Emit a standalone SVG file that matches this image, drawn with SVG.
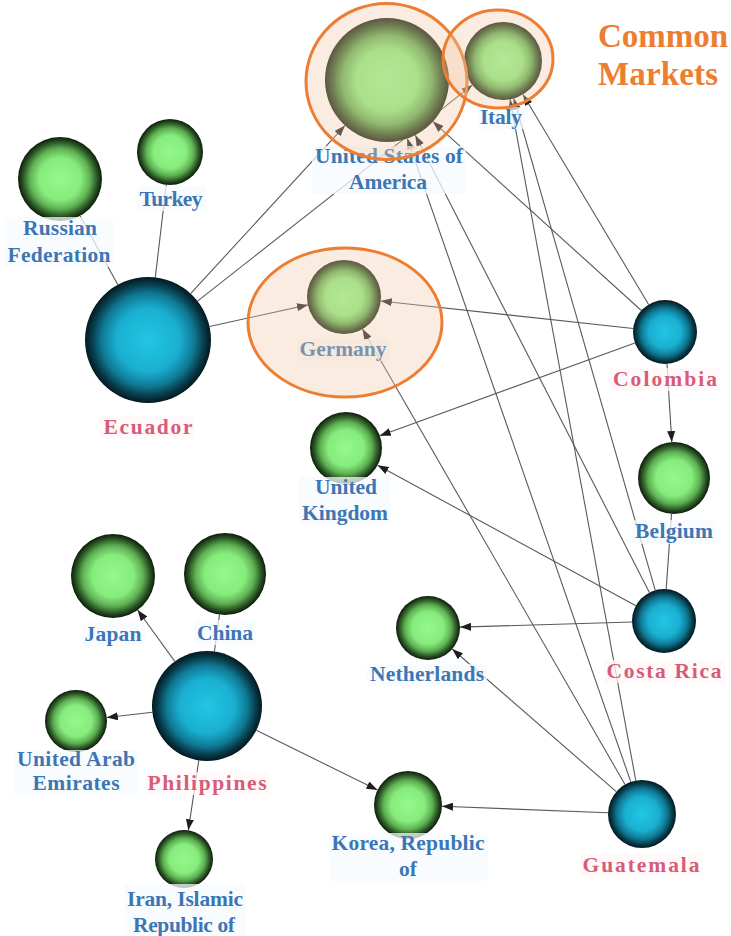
<svg xmlns="http://www.w3.org/2000/svg" width="731" height="936" viewBox="0 0 731 936">
  <style>
    .edge { stroke: #5a5a5a; stroke-width: 1.1; fill: none; marker-end: url(#arrow); }
    .edge.plain { marker-end: none; }
    .lbl { font-family: "Liberation Serif", "Times New Roman", serif; font-weight: bold; font-size: 21.5px; text-anchor: middle; }
    .dest { fill: #3d76b4; }
    .src { fill: #d65c79; }
    .bg-dest { fill: #f7fbfe; opacity: 0.75; }
    .bg-src { fill: #fff7f8; opacity: 0.75; }
    .market { fill: #f0c8a6; fill-opacity: 0.35; stroke: #ed7d31; stroke-width: 3; }
    .title { font-family: "Liberation Serif", "Times New Roman", serif; font-weight: bold; font-size: 33px; fill: #ed7d31; }
  </style>
  <defs>
    <radialGradient id="gDest" cx="0.5" cy="0.5" r="0.5">
      <stop offset="0" stop-color="#95f88d"/>
      <stop offset="0.5" stop-color="#86ec7c"/>
      <stop offset="0.72" stop-color="#5fb054"/>
      <stop offset="0.88" stop-color="#2b5825"/>
      <stop offset="1" stop-color="#0d1a0b"/>
    </radialGradient>
    <radialGradient id="gSrc" cx="0.5" cy="0.5" r="0.5">
      <stop offset="0" stop-color="#22c6e4"/>
      <stop offset="0.5" stop-color="#1aafd1"/>
      <stop offset="0.74" stop-color="#0f7893"/>
      <stop offset="0.89" stop-color="#083c4b"/>
      <stop offset="1" stop-color="#03191f"/>
    </radialGradient>
    <marker id="arrow" markerUnits="userSpaceOnUse" markerWidth="11" markerHeight="8" refX="11" refY="4" orient="auto">
      <path d="M0,0 L11,4 L0,8 z" fill="#1e1e1e"/>
    </marker>
  </defs>

  <rect width="731" height="936" fill="#ffffff"/>

  <!-- export links -->
  <g id="edges">
    <line class="edge plain" x1="117.8" y1="284.7" x2="80.1" y2="215.9"/>
    <line class="edge plain" x1="155.3" y1="277.4" x2="166.2" y2="184.8"/>
    <line class="edge" x1="190.6" y1="293.6" x2="345" y2="125.6"/>
    <line class="edge" x1="197.5" y1="301.1" x2="472.3" y2="85.1"/>
    <line class="edge" x1="209.5" y1="326.5" x2="307.9" y2="304.9"/>
    <line class="edge" x1="633.2" y1="328.5" x2="380.8" y2="301"/>
    <line class="edge" x1="634.9" y1="342.9" x2="379.8" y2="435.7"/>
    <line class="edge" x1="641.3" y1="310.5" x2="432.9" y2="121.6"/>
    <line class="edge" x1="648.6" y1="304.5" x2="523" y2="94.5"/>
    <line class="edge" x1="667" y1="364" x2="671.8" y2="442.1"/>
    <line class="edge" x1="632" y1="622" x2="460" y2="627.1"/>
    <line class="edge" x1="635.9" y1="605.7" x2="377.6" y2="465.2"/>
    <line class="edge" x1="649.4" y1="592.5" x2="415.3" y2="135.2"/>
    <line class="edge" x1="655.2" y1="590.2" x2="513.8" y2="98.5"/>
    <line class="edge plain" x1="666.2" y1="589.1" x2="671.5" y2="513.9"/>
    <line class="edge" x1="608" y1="812.7" x2="442" y2="806.3"/>
    <line class="edge" x1="616.3" y1="791.7" x2="452.2" y2="649"/>
    <line class="edge" x1="625" y1="784.5" x2="362.5" y2="329.1"/>
    <line class="edge" x1="630.8" y1="781.9" x2="407.3" y2="138.6"/>
    <line class="edge" x1="635.8" y1="780.6" x2="510.1" y2="99.4"/>
    <line class="edge" x1="174.8" y1="661.4" x2="137.6" y2="610"/>
    <line class="edge plain" x1="214.4" y1="651.5" x2="219.5" y2="614.6"/>
    <line class="edge" x1="152.4" y1="712.3" x2="106.8" y2="717.5"/>
    <line class="edge" x1="198.8" y1="760.4" x2="188.3" y2="830.3"/>
    <line class="edge" x1="256.3" y1="730.3" x2="377.5" y2="790"/>
  </g>

  <!-- destination markets -->
  <g id="node-usa">
    <circle cx="387" cy="80" r="62" fill="url(#gDest)"/>
    <rect class="bg-dest" x="312" y="146" width="154" height="48" rx="3"/>
    <text class="lbl dest" x="389" y="163" textLength="148" lengthAdjust="spacing">United States of</text>
    <text class="lbl dest" x="388" y="189" textLength="78" lengthAdjust="spacing">America</text>
  </g>
  <g id="node-italy">
    <circle cx="503" cy="61" r="39" fill="url(#gDest)"/>
    <rect class="bg-dest" x="477" y="107" width="48" height="22" rx="3"/>
    <text class="lbl dest" x="501" y="124" textLength="42" lengthAdjust="spacing">Italy</text>
  </g>
  <g id="node-germany">
    <circle cx="344" cy="297" r="37" fill="url(#gDest)"/>
    <rect class="bg-dest" x="297" y="339" width="93" height="22" rx="3"/>
    <text class="lbl dest" x="343" y="356" textLength="87" lengthAdjust="spacing">Germany</text>
  </g>
  <g id="node-uk">
    <circle cx="346" cy="448" r="36" fill="url(#gDest)"/>
    <rect class="bg-dest" x="299" y="477" width="92" height="48" rx="3"/>
    <text class="lbl dest" x="346" y="494" textLength="62" lengthAdjust="spacing">United</text>
    <text class="lbl dest" x="345" y="520" textLength="86" lengthAdjust="spacing">Kingdom</text>
  </g>
  <g id="node-turkey">
    <circle cx="170" cy="152" r="33" fill="url(#gDest)"/>
    <rect class="bg-dest" x="137" y="186" width="69" height="25" rx="3"/>
    <text class="lbl dest" x="171" y="206" textLength="63" lengthAdjust="spacing">Turkey</text>
  </g>
  <g id="node-russia">
    <circle cx="60" cy="179" r="42" fill="url(#gDest)"/>
    <rect class="bg-dest" x="4" y="217" width="109" height="50" rx="3"/>
    <text class="lbl dest" x="60" y="235" textLength="74" lengthAdjust="spacing">Russian</text>
    <text class="lbl dest" x="59" y="262" textLength="103" lengthAdjust="spacing">Federation</text>
  </g>
  <g id="node-belgium">
    <circle cx="674" cy="478" r="36" fill="url(#gDest)"/>
    <rect class="bg-dest" x="632" y="520" width="84" height="24" rx="3"/>
    <text class="lbl dest" x="674" y="538" textLength="78" lengthAdjust="spacing">Belgium</text>
  </g>
  <g id="node-netherlands">
    <circle cx="428" cy="628" r="32" fill="url(#gDest)"/>
    <rect class="bg-dest" x="367" y="664" width="120" height="22" rx="3"/>
    <text class="lbl dest" x="427" y="681" textLength="114" lengthAdjust="spacing">Netherlands</text>
  </g>
  <g id="node-korea">
    <circle cx="408" cy="805" r="34" fill="url(#gDest)"/>
    <rect class="bg-dest" x="329" y="833" width="159" height="48" rx="3"/>
    <text class="lbl dest" x="408" y="850" textLength="153" lengthAdjust="spacing">Korea, Republic</text>
    <text class="lbl dest" x="408" y="876" textLength="18" lengthAdjust="spacing">of</text>
  </g>
  <g id="node-japan">
    <circle cx="113" cy="576" r="42" fill="url(#gDest)"/>
    <rect class="bg-dest" x="82" y="623" width="63" height="23" rx="3"/>
    <text class="lbl dest" x="113" y="641" textLength="57" lengthAdjust="spacing">Japan</text>
  </g>
  <g id="node-china">
    <circle cx="225" cy="574" r="41" fill="url(#gDest)"/>
    <rect class="bg-dest" x="194" y="620" width="62" height="25" rx="3"/>
    <text class="lbl dest" x="225" y="640" textLength="56" lengthAdjust="spacing">China</text>
  </g>
  <g id="node-uae">
    <circle cx="76" cy="721" r="31" fill="url(#gDest)"/>
    <rect class="bg-dest" x="14" y="750" width="124" height="46" rx="3"/>
    <text class="lbl dest" x="76" y="766" textLength="118" lengthAdjust="spacing">United Arab</text>
    <text class="lbl dest" x="76" y="790" textLength="87" lengthAdjust="spacing">Emirates</text>
  </g>
  <g id="node-iran">
    <circle cx="184" cy="859" r="29" fill="url(#gDest)"/>
    <rect class="bg-dest" x="124" y="884" width="122" height="52" rx="3"/>
    <text class="lbl dest" x="185" y="906" textLength="116" lengthAdjust="spacing">Iran, Islamic</text>
    <text class="lbl dest" x="184" y="932" textLength="102" lengthAdjust="spacing">Republic of</text>
  </g>

  <!-- exporting countries -->
  <g id="node-ecuador">
    <circle cx="148" cy="340" r="63" fill="url(#gSrc)"/>
    <rect class="bg-src" x="100" y="416" width="95" height="23" rx="3"/>
    <text class="lbl src" x="148" y="434" textLength="89" lengthAdjust="spacing">Ecuador</text>
  </g>
  <g id="node-colombia">
    <circle cx="665" cy="332" r="32" fill="url(#gSrc)"/>
    <rect class="bg-src" x="610" y="368" width="110" height="23" rx="3"/>
    <text class="lbl src" x="665" y="386" textLength="104" lengthAdjust="spacing">Colombia</text>
  </g>
  <g id="node-costa-rica">
    <circle cx="664" cy="621" r="32" fill="url(#gSrc)"/>
    <rect class="bg-src" x="604" y="660" width="121" height="23" rx="3"/>
    <text class="lbl src" x="664" y="678" textLength="115" lengthAdjust="spacing">Costa Rica</text>
  </g>
  <g id="node-guatemala">
    <circle cx="642" cy="814" r="34" fill="url(#gSrc)"/>
    <rect class="bg-src" x="580" y="854" width="123" height="23" rx="3"/>
    <text class="lbl src" x="641" y="872" textLength="117" lengthAdjust="spacing">Guatemala</text>
  </g>
  <g id="node-philippines">
    <circle cx="207" cy="706" r="55" fill="url(#gSrc)"/>
    <rect class="bg-src" x="145" y="772" width="125" height="23" rx="3"/>
    <text class="lbl src" x="207" y="790" textLength="119" lengthAdjust="spacing">Philippines</text>
  </g>

  <!-- common market highlight -->
  <g id="common-markets">
    <ellipse class="market" cx="386.5" cy="81.5" rx="80.5" ry="78"/>
    <ellipse class="market" cx="498" cy="59" rx="55" ry="49"/>
    <ellipse class="market" cx="345" cy="322.5" rx="97" ry="74.5"/>
    <text class="title" x="598" y="47" textLength="130" lengthAdjust="spacing">Common</text>
    <text class="title" x="598" y="85" textLength="120" lengthAdjust="spacing">Markets</text>
  </g>
</svg>
